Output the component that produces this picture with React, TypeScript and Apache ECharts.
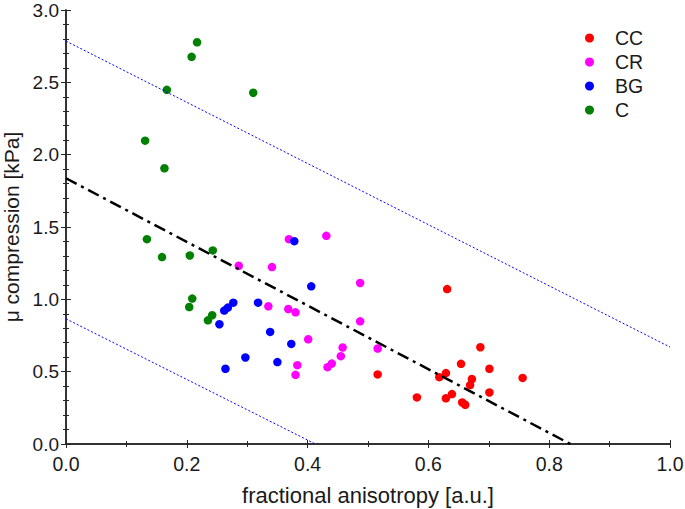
import React, { useEffect, useRef } from "react";
import * as echarts from "echarts";

const seriesNames = ["CC", "CR", "BG", "C"];
const seriesColors = ["#ff0000", "#ff00ff", "#0000ff", "#008000"];

const ccData = [
  [0.631, 1.071], [0.686, 0.669], [0.516, 0.481], [0.654, 0.554], [0.701, 0.52],
  [0.756, 0.457], [0.629, 0.49], [0.618, 0.462], [0.672, 0.449], [0.669, 0.407],
  [0.701, 0.356], [0.639, 0.345], [0.581, 0.322], [0.629, 0.316], [0.656, 0.287],
  [0.661, 0.271],
];
const crData = [
  [0.369, 1.416], [0.431, 1.439], [0.286, 1.232], [0.341, 1.223], [0.487, 1.113],
  [0.335, 0.952], [0.368, 0.933], [0.38, 0.91], [0.487, 0.848], [0.401, 0.724],
  [0.458, 0.667], [0.455, 0.607], [0.44, 0.556], [0.433, 0.531], [0.383, 0.545],
  [0.38, 0.478], [0.516, 0.66],
];
const bgData = [
  [0.378, 1.402], [0.406, 1.09], [0.277, 0.977], [0.268, 0.943], [0.262, 0.922],
  [0.318, 0.977], [0.254, 0.828], [0.338, 0.775], [0.373, 0.692], [0.297, 0.598],
  [0.35, 0.566], [0.264, 0.52],
];
const cData = [
  [0.217, 2.777], [0.208, 2.676], [0.167, 2.448], [0.31, 2.428], [0.131, 2.097],
  [0.163, 1.906], [0.134, 1.416], [0.159, 1.292], [0.205, 1.303], [0.243, 1.338],
  [0.209, 1.005], [0.204, 0.947], [0.242, 0.89], [0.235, 0.855],
];

const fitLine = [[0, 1.837], [0.835, 0]];
const upperBound = [[0, 2.785], [1, 0.67]];
const lowerBound = [[0, 0.865], [0.413, 0]];

const xTicks = { min: 0, max: 1, interval: 0.2 };
const yTicks = { min: 0, max: 3, interval: 0.5 };

const FONT = "Liberation Sans, Arial, sans-serif";

export default function App() {
  const ref = useRef<HTMLDivElement>(null);
  useEffect(() => {
    if (!ref.current) return;
    const chart = echarts.init(ref.current, undefined, { renderer: "svg" });
    const axisLine = { show: true, lineStyle: { color: "#262626", width: 1.5 } };
    const tick = { show: true, inside: true, length: 4, lineStyle: { color: "#262626", width: 1 } };
    const xMinor = { show: true, splitNumber: 2, length: 3, lineStyle: { color: "#262626", width: 1 } };
    const yMinor = { show: true, splitNumber: 5, length: 3, lineStyle: { color: "#262626", width: 1 } };
    const label = { fontSize: 19.5, color: "#1a1a1a", fontFamily: FONT, formatter: (v: number) => v.toFixed(1) };
    const datasets = [ccData, crData, bgData, cData];
    chart.setOption({
      animation: false,
      backgroundColor: "#ffffff",
      textStyle: { fontFamily: FONT },
      grid: { left: 66, right: 15, top: 10, bottom: 65, containLabel: false, outerBoundsMode: "none" },
      legend: {
        data: seriesNames,
        orient: "vertical",
        left: 580,
        top: 23,
        icon: "circle",
        itemWidth: 9,
        itemHeight: 9,
        itemGap: 4,
        textStyle: { fontSize: 19.5, color: "#1a1a1a", fontFamily: FONT, lineHeight: 19, padding: [0, 0, 0, 16] },
      },
      xAxis: [
        {
          type: "value", ...xTicks, position: "bottom",
          axisLine, axisTick: tick, minorTick: xMinor, splitLine: { show: false },
          axisLabel: { ...label, margin: 10 },
          name: "fractional anisotropy [a.u.]", nameLocation: "middle", nameGap: 40,
          nameTextStyle: { fontSize: 22, color: "#1a1a1a", fontFamily: FONT },
        },
        {
          type: "value", ...xTicks, position: "top",
          axisLine, axisTick: tick, minorTick: xMinor, splitLine: { show: false },
          axisLabel: { show: false },
        },
      ],
      yAxis: [
        {
          type: "value", ...yTicks, position: "left",
          axisLine, axisTick: { ...tick, length: 5 }, minorTick: yMinor, splitLine: { show: false },
          axisLabel: { ...label, fontSize: 19, margin: 7, lineHeight: 14 },
          name: "μ compression [kPa]", nameLocation: "middle", nameGap: 42, nameRotate: 90,
          nameTextStyle: { fontSize: 21, color: "#1a1a1a", fontFamily: FONT, lineHeight: 20 },
        },
        {
          type: "value", ...yTicks, position: "right",
          axisLine, axisTick: { ...tick, length: 5 }, minorTick: yMinor, splitLine: { show: false },
          axisLabel: { show: false },
        },
      ],
      series: [
        ...datasets.map((d, i) => ({
          name: seriesNames[i],
          type: "scatter",
          data: d,
          symbol: "circle",
          symbolSize: 8.5,
          itemStyle: { color: seriesColors[i], opacity: 1 },
          z: 2,
        })),
        {
          type: "line", data: fitLine, symbol: "none", z: 3,
          lineStyle: { color: "#000000", width: 2.5, type: [12, 5, 3, 5] },
        },
        {
          type: "line", data: upperBound, symbol: "none", z: 3,
          lineStyle: { color: "#0000ff", width: 1, type: [2, 2] },
        },
        {
          type: "line", data: lowerBound, symbol: "none", z: 3,
          lineStyle: { color: "#0000ff", width: 1, type: [2, 2] },
        },
      ],
    });
    return () => chart.dispose();
  }, []);
  return (
    <div
      ref={ref}
      style={{ position: "fixed", left: 0, top: 0, width: 685, height: 509, background: "#fff" }}
    />
  );
}
